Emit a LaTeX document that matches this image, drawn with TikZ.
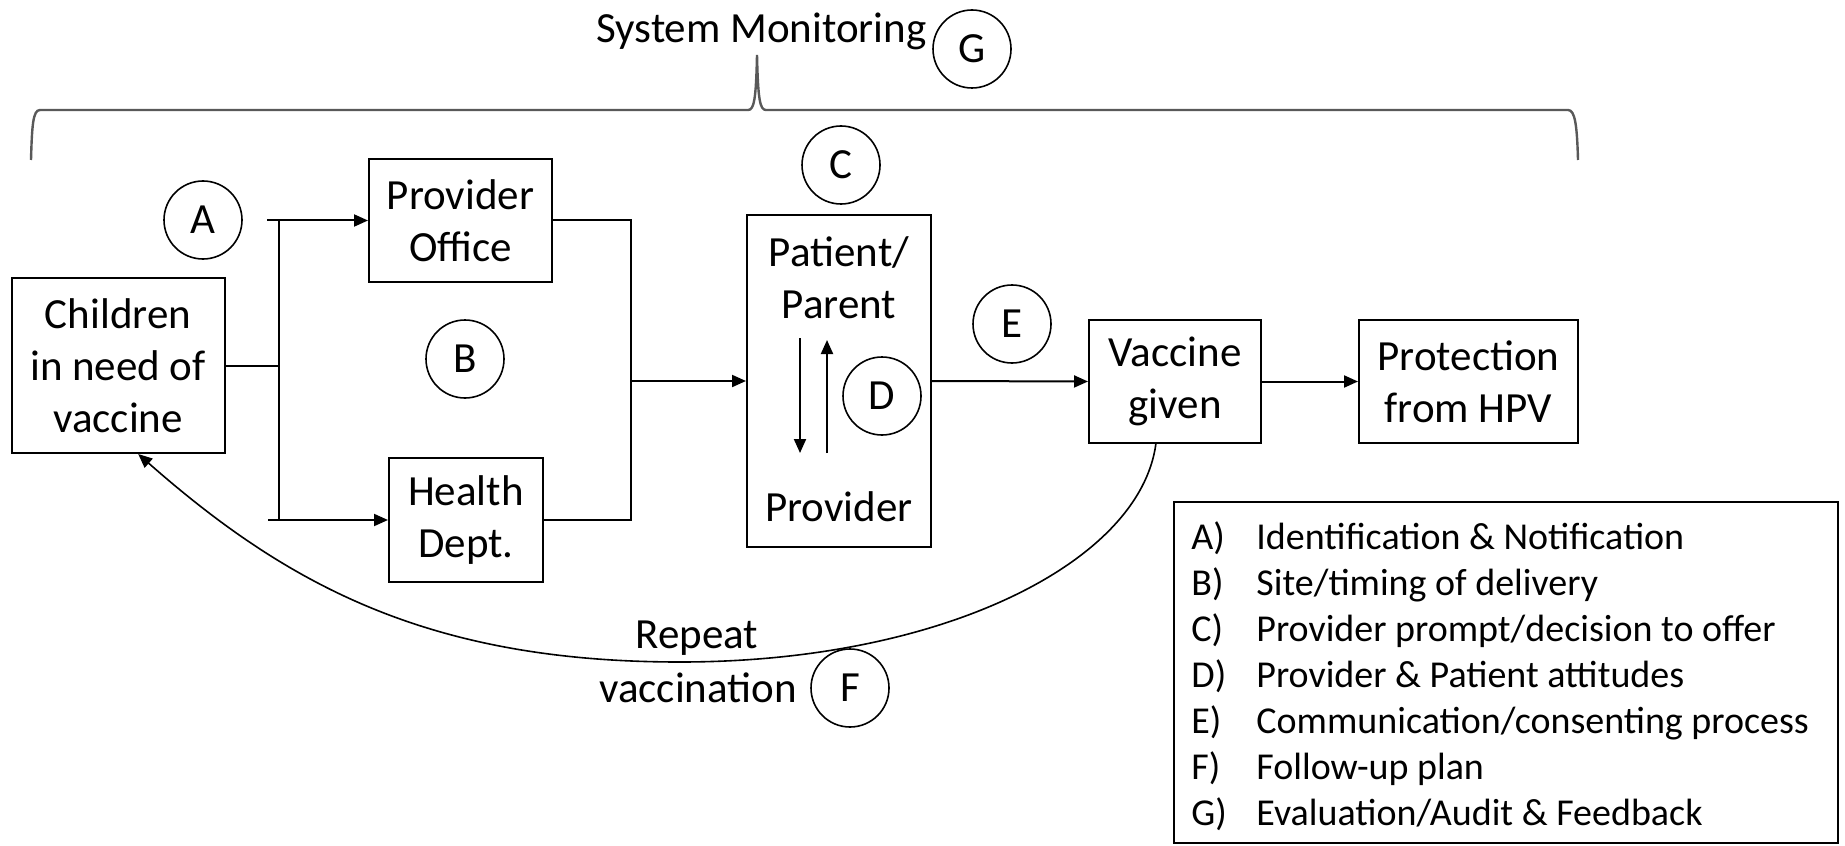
\documentclass[tikz,border=0pt]{standalone}
\usepackage{fontspec}
\setmainfont{Carlito}
\usetikzlibrary{arrows.meta,calc}
\newcommand{\diagfs}{\fontsize{21.5pt}{26pt}\selectfont}
\newcommand{\legfs}{\fontsize{19pt}{23pt}\selectfont}
\begin{document}
\begin{tikzpicture}[x=0.5pt,y=-0.5pt,
  box/.style={draw, line width=1pt, align=center, inner sep=0pt, font=\diagfs},
  lab/.style={draw, circle, line width=0.8pt, minimum size=39pt, inner sep=0pt, font=\diagfs},
  txt/.style={inner sep=0pt, font=\diagfs, anchor=base},
  leg/.style={inner sep=0pt, font=\legfs, anchor=base west},
  conn/.style={line width=1pt},
  arr/.style={line width=1pt, -{Triangle[length=7pt,width=6pt]}},
]
\useasboundingbox (0,0) rectangle (1845,845);

% brace
\draw[line width=1.2pt, black!65] (31,160) .. controls (32,125) and (33,110) .. (40,110) -- (748,110)
  .. controls (754,110) and (756,100) .. (757,55) .. controls (758,100) and (760,110) .. (766,110)
  -- (1568,110) .. controls (1575,110) and (1577,125) .. (1578,160);
\node[txt, anchor=base west] (sm) at (596,43) {System Monitoring};

% boxes
\node[box, minimum width=106.5pt, minimum height=87.5pt] (ch) at (118,365.5) {Children\\in need of\\vaccine};
\node[box, minimum width=91.5pt, minimum height=61.5pt] (po) at (460.5,220.5) {Provider\\Office};
\node[box, minimum width=77pt, minimum height=62pt] (hd) at (466,520) {Health\\Dept.};
\node[box, minimum width=92pt, minimum height=166pt] (pp) at (839,381) {};
\node[box, minimum width=86pt, minimum height=61.5pt] (vg) at (1175,381.5) {Vaccine\\given};
\node[box, minimum width=109.5pt, minimum height=61.5pt] (ph) at (1468.5,381.5) {Protection\\from HPV};

\node[txt] (pt1) at (839,266) {Patient/};
\node[txt] (pt2) at (839,318) {Parent};
\node[txt] (pt3) at (839,521) {Provider};

% circles
\node[lab] (ca) at (203,220) {A};
\node[lab] (cb) at (465,359) {B};
\node[lab] (cc) at (841,165) {C};
\node[lab] (cd) at (882,396) {D};
\node[lab] (ce) at (1012,324) {E};
\node[lab] (cf) at (850,688) {F};
\node[lab] (cg) at (972,49) {G};

% connectors
\coordinate (jt) at (279,220.5);
\coordinate (jb) at (279,520);
\coordinate (jts) at (267,220.5);
\coordinate (jbs) at (268,520);
\coordinate (kt) at (631,220.5);
\coordinate (kb) at (631,520);
\coordinate (km) at (631,381);
\draw[conn] (ch.east) -- (ch.east -| jt);
\draw[conn] (jt) -- (jb);
\draw[arr] (jts) -- (po.west);
\draw[arr] (jbs) -- (hd.west);
\draw[conn] (po.east) -- (kt) -- (kb) -- (hd.east);
\draw[arr] (km) -- (pp.west);
\draw[arr] (pp.east) -- (vg.west);
\draw[arr] (vg.east) -- (ph.west);

% arrows inside patient box
\coordinate (dn1) at (800,338);
\coordinate (dn2) at (800,453);
\coordinate (up1) at (827,453);
\coordinate (up2) at (827,340);
\draw[arr] (dn1) -- (dn2);
\draw[arr] (up1) -- (up2);

% repeat curve
\coordinate (fs) at ($(vg.south west)!0.39!(vg.south east)$);
\coordinate (fe) at ($(ch.south west)!0.594!(ch.south east)$);
\coordinate (fm) at (680,662);
\draw[line width=0.8pt, -{Triangle[length=7pt,width=6pt]}] (fs) .. controls +(-16,118) and +(263,0) .. (fm)
  .. controls +(-250,0) and +(150,132) .. (fe);
\node[txt] (rp) at (697,648) {Repeat};
\node[txt] (vc) at (698,702) {vaccination};

% legend
\node[draw, line width=1pt, minimum width=332pt, minimum height=170.5pt, inner sep=0pt] (lg) at (1506,672.5) {};
\node[leg] (la) at (1191,549) {A)};
\node[leg] (lb) at (1191,595) {B)};
\node[leg] (lc) at (1191,641) {C)};
\node[leg] (ld) at (1191,687) {D)};
\node[leg] (le) at (1191,733) {E)};
\node[leg] (lf) at (1191,779) {F)};
\node[leg] (lgg) at (1191,825) {G)};
\node[leg] (ta) at (1256,549) {Identification \& Notification};
\node[leg] (tb) at (1256,595) {Site/timing of delivery};
\node[leg] (tc) at (1256,641) {Provider prompt/decision to offer};
\node[leg] (td) at (1256,687) {Provider \& Patient attitudes};
\node[leg] (te) at (1256,733) {Communication/consenting process};
\node[leg] (tf) at (1256,779) {Follow-up plan};
\node[leg] (tg) at (1256,825) {Evaluation/Audit \& Feedback};
\end{tikzpicture}
\end{document}
